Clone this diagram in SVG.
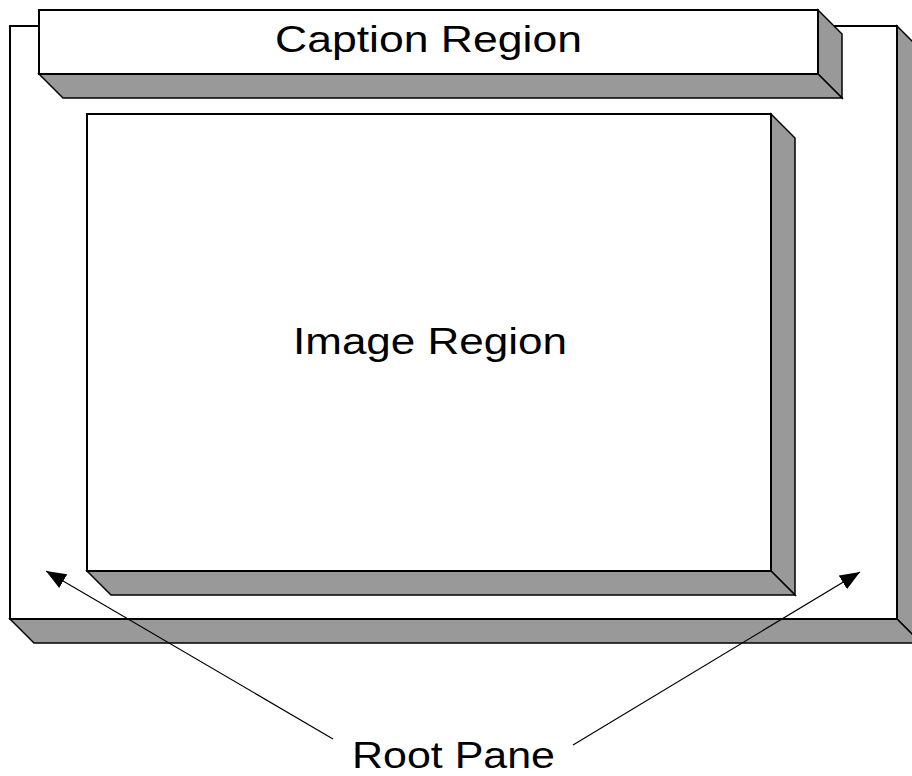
<svg xmlns="http://www.w3.org/2000/svg" width="912" height="776" viewBox="0 0 912 776">
<defs>
<style>
.front{fill:#ffffff;stroke:#000000;stroke-width:2}
.side{fill:#999999;stroke:#000000;stroke-width:1.5;stroke-linejoin:miter}
.lbl{font-family:"Liberation Sans","DejaVu Sans",sans-serif;font-size:36px;fill:#000000}
.conn{stroke:#000000;stroke-width:1.2;fill:none}
</style>
<marker id="ah" markerWidth="22" markerHeight="16" refX="20" refY="8" orient="auto" markerUnits="userSpaceOnUse">
<path d="M0,0 L20,8 L0,16 Z" fill="#000000"/>
</marker>
</defs>
<rect width="912" height="776" fill="#ffffff"/>
<g id="root-pane">
<polygon class="side" points="897,26 921,50 921,643 897,619"/>
<polygon class="side" points="10,619 897,619 921,643 34,643"/>
<rect class="front" x="10" y="26" width="887" height="593"/>
</g>
<g id="image-region">
<polygon class="side" points="771,114 795,138 795,595 771,571"/>
<polygon class="side" points="87,571 771,571 795,595 111,595"/>
<rect class="front" x="87" y="114" width="684" height="457"/>
<text class="lbl" x="430" y="354" text-anchor="middle" textLength="274" lengthAdjust="spacingAndGlyphs">Image Region</text>
</g>
<g id="caption-region">
<polygon class="side" points="818,10 842,34 842,98 818,74"/>
<polygon class="side" points="39,74 818,74 842,98 63,98"/>
<rect class="front" x="39" y="10" width="779" height="64"/>
<text class="lbl" x="428.5" y="52" text-anchor="middle" textLength="307" lengthAdjust="spacingAndGlyphs">Caption Region</text>
</g>
<g id="connectors">
<line class="conn" x1="333" y1="739" x2="46" y2="571" marker-end="url(#ah)"/>
<line class="conn" x1="573" y1="745" x2="860" y2="572" marker-end="url(#ah)"/>
</g>
<g id="root-pane-label">
<text class="lbl" x="453.5" y="768" text-anchor="middle" textLength="203" lengthAdjust="spacingAndGlyphs">Root Pane</text>
</g>
</svg>
